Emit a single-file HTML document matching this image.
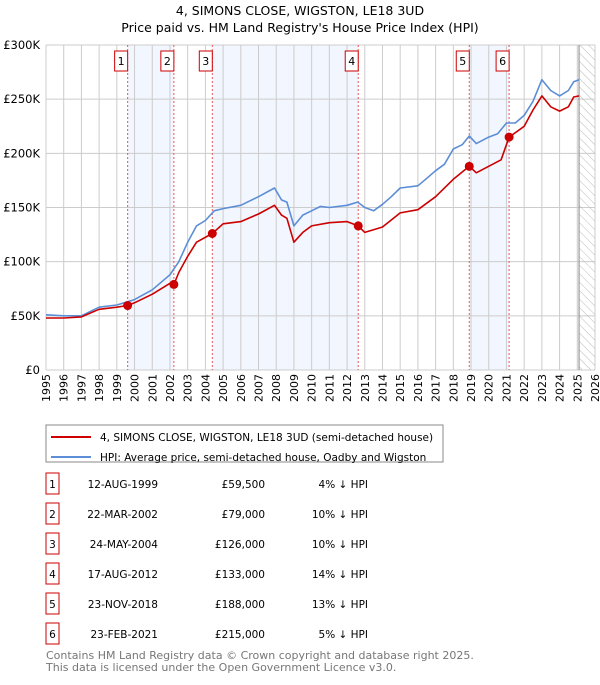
<!DOCTYPE html>
<html><head><meta charset="utf-8"><style>
body{margin:0;background:#fff;font-family:"Liberation Sans","DejaVu Sans",sans-serif;}
svg text{font-family:"DejaVu Sans","Liberation Sans",sans-serif;}
</style></head><body>
<svg id="c" width="600" height="680" xmlns="http://www.w3.org/2000/svg">
<defs><pattern id="hatch" width="6" height="6" patternUnits="userSpaceOnUse" patternTransform="rotate(-45)"><line x1="0" y1="0" x2="0" y2="6" stroke="#bbb" stroke-width="1"/></pattern></defs>
<text x="300" y="15" text-anchor="middle" font-size="12.5" fill="#000">4, SIMONS CLOSE, WIGSTON, LE18 3UD</text>
<text x="300" y="32" text-anchor="middle" font-size="12.5" fill="#000">Price paid vs. HM Land Registry's House Price Index (HPI)</text>
<g id="plot"></g>
<g>
<rect x="46" y="425" width="397" height="37" fill="#fff" stroke="#888" stroke-width="1"/>
<line x1="51" y1="437" x2="91" y2="437" stroke="#cc0000" stroke-width="2"/>
<text x="100" y="441" font-size="10.5">4, SIMONS CLOSE, WIGSTON, LE18 3UD (semi-detached house)</text>
<line x1="51" y1="457" x2="91" y2="457" stroke="#5b8ed6" stroke-width="2"/>
<text x="100" y="461" font-size="10.5">HPI: Average price, semi-detached house, Oadby and Wigston</text>
</g>
<g id="table"></g>
<text x="46" y="659" font-size="11" fill="#777">Contains HM Land Registry data © Crown copyright and database right 2025.</text>
<text x="46" y="671" font-size="11" fill="#777">This data is licensed under the Open Government Licence v3.0.</text>
</svg>
<script>
const hpiYears=[1995,1996,1997,1998,1999,1999.6,2000,2001,2002,2002.5,2003,2003.5,2004,2004.5,2005,2006,2007,2007.9,2008.3,2008.6,2009,2009.5,2010,2010.5,2011,2012,2012.6,2013,2013.5,2014,2014.5,2015,2016,2016.5,2017,2017.5,2018,2018.5,2018.9,2019.3,2020,2020.5,2021,2021.5,2022,2022.5,2023,2023.5,2024,2024.5,2024.8,2025.1];
const hpiValues=[51,50,50,58,60,63,65,74,88,100,118,133,138,147,149,152,160,168,157,155,133,143,147,151,150,152,155,150,147,153,160,168,170,177,184,190,204,208,216,209,215,218,228,228,235,248,268,258,253,258,266,268];
const ppYears=[1995,1996,1997,1998,1999,1999.61,2000,2001,2002,2002.22,2002.5,2003,2003.5,2004.39,2005,2006,2007,2007.9,2008.3,2008.6,2009,2009.5,2010,2011,2012,2012.63,2013,2014,2015,2016,2017,2018,2018.9,2019.3,2020,2020.7,2021.15,2022,2022.5,2023,2023.5,2024,2024.5,2024.8,2025.1];
const ppValues=[48,48,49,56,58,59.5,62,70,80,79,90,105,118,126,135,137,144,152,143,140,118,127,133,136,137,133,127,132,145,148,160,176,188,182,188,194,215,225,240,253,243,239,243,252,253];
const saleLabels=["1","2","3","4","5","6"];
const saleYears=[1999.61,2002.22,2004.39,2012.63,2018.9,2021.15];
const saleValues=[59.5,79,126,133,188,215];
const saleDates=["12-AUG-1999","22-MAR-2002","24-MAY-2004","17-AUG-2012","23-NOV-2018","23-FEB-2021"];
const salePrices=["£59,500","£79,000","£126,000","£133,000","£188,000","£215,000"];
const saleHpi=["4% ↓ HPI","10% ↓ HPI","10% ↓ HPI","14% ↓ HPI","13% ↓ HPI","5% ↓ HPI"];
const yTicks=[0,50,100,150,200,250,300];
const yTickLabels=["£0","£50K","£100K","£150K","£200K","£250K","£300K"];
const L=46,R=595,T=45,B=370,X0=1995,X1=2026,Y1=300,NOW=2025.1;
const xs=v=>L+(v-X0)/(X1-X0)*(R-L);
const ys=v=>B-v/Y1*(B-T);
const NS="http://www.w3.org/2000/svg";
const g=document.getElementById('plot');
function mk(t,a,p){const e=document.createElementNS(NS,t);for(const k in a)e.setAttribute(k,a[k]);(p||g).appendChild(e);return e;}
// shaded spans
for(let i=0;i<saleYears.length;i+=2){const r=mk('rect',{x:xs(saleYears[i]),y:T,width:xs(saleYears[i+1])-xs(saleYears[i]),height:B-T,fill:'#eef3fd',opacity:0.75});

}
// grid
for(let y=X0;y<=X1;y++){const l=mk('line',{x1:xs(y),x2:xs(y),y1:T,y2:B,stroke:'#cccccc','stroke-width':1});


const t=mk('text',{x:0,y:0,'font-size':11,'text-anchor':'end',transform:`translate(${xs(y)+4},374) rotate(-90)`});t.textContent=y;

}
yTicks.forEach((v,i)=>{const l=mk('line',{x1:L,x2:R,y1:ys(v),y2:ys(v),stroke:'#cccccc','stroke-width':1});


const t=mk('text',{x:40,y:ys(v)+4,'font-size':11.5,'text-anchor':'end'});t.textContent=yTickLabels[i];

});
// hatched future
const h=mk('rect',{x:xs(NOW),y:T,width:R-xs(NOW),height:B-T,fill:'url(#hatch)'});


const nl=mk('line',{x1:xs(NOW),x2:xs(NOW),y1:T,y2:B,stroke:'#999','stroke-width':1.2});


// sale vlines
saleYears.forEach((y,i)=>{const l=mk('line',{x1:xs(y),x2:xs(y),y1:T,y2:B,stroke:'#ee5555','stroke-width':1,'stroke-dasharray':'2,2'});

});
function path(xa,va,col,name){const d=xa.map((x,i)=>(i?'L':'M')+xs(x).toFixed(1)+','+ys(va[i]).toFixed(1)).join('');
const p=mk('path',{d:d,fill:'none',stroke:col,'stroke-width':1.6,'stroke-linejoin':'round'});

}
path(hpiYears,hpiValues,'#5b8ed6','hpi-line');
path(ppYears,ppValues,'#cc0000','price-paid-line');
saleYears.forEach((y,i)=>{const c=mk('circle',{cx:xs(y),cy:ys(saleValues[i]),r:4.5,fill:'#cc0000'});


const bx=xs(y)-10;const r=mk('rect',{x:bx-3,y:51,width:13,height:20,fill:'#fff',stroke:'#cc0000','stroke-width':1});


const t=mk('text',{x:bx+3.5,y:65,'font-size':11,'text-anchor':'middle'});t.textContent=saleLabels[i];

});
const tb=document.getElementById('table');
saleLabels.forEach((s,i)=>{const y=484+i*30;
const r=mk('rect',{x:46,y:y-11,width:13,height:21,fill:'#fff',stroke:'#cc0000','stroke-width':1},tb);


const cells=[[52.5,'middle',s],[158,'end',saleDates[i]],[265,'end',salePrices[i]],[368,'end',saleHpi[i]]];
cells.forEach(c=>{const t=mk('text',{x:c[0],y:y+4,'font-size':10.5,'text-anchor':c[1]},tb);t.textContent=c[2];

});});
</script>
</body></html>
